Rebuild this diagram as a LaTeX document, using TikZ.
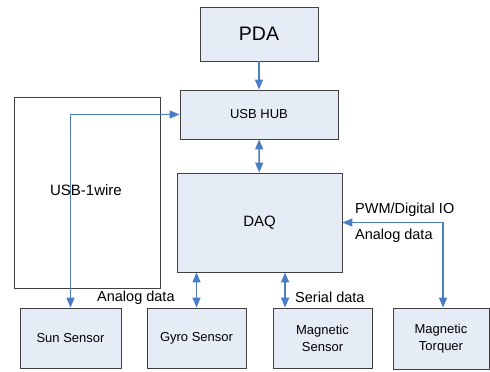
\documentclass[tikz,border=0pt]{standalone}
\usepackage{fontspec}
\setmainfont{Liberation Sans}
\usetikzlibrary{arrows.meta}
\definecolor{boxfill}{RGB}{230,236,246}
\definecolor{boxline}{RGB}{64,64,64}
\definecolor{arrowblue}{RGB}{74,126,196}
\tikzset{
  blk/.style={draw=boxline, line width=0.9pt, fill=boxfill, inner sep=0pt, align=center, font=\fontsize{13}{17}\selectfont},
  tip/.style={Triangle[length=10pt,width=8pt]},
  conn/.style={draw=arrowblue, line width=1.5pt, {Triangle[length=10pt,width=8pt]}-{Triangle[length=10pt,width=8pt]}},
  conn1/.style={draw=arrowblue, line width=1.5pt, -{Triangle[length=10pt,width=8pt]}},
  lbl/.style={anchor=west, inner sep=0pt, font=\fontsize{14.5}{17}\selectfont}
}
\begin{document}
\begin{tikzpicture}[x=1pt,y=-1pt]
\useasboundingbox (0,0) rectangle (490,372);
\node[blk, fill=white, minimum width=146pt, minimum height=191pt] (wire) at (87,192.5) {};
\node[inner sep=0pt, font=\fontsize{15}{18}\selectfont] (wiretext) at (86,190) {USB-1wire};
\node[blk, minimum width=118pt, minimum height=54pt, font=\fontsize{19.5}{22}\selectfont] (pda) at (259,34) {PDA};
\node[blk, minimum width=158pt, minimum height=49pt] (hub) at (259,114.5) {USB HUB};
\node[blk, minimum width=165pt, minimum height=99pt, font=\fontsize{15}{18}\selectfont] (daq) at (259.5,222.5) {DAQ};
\node[blk, minimum width=101pt, minimum height=60pt] (sun) at (70.5,338) {Sun Sensor};
\node[blk, minimum width=99pt, minimum height=60pt] (gyro) at (196.5,338) {Gyro Sensor};
\node[blk, minimum width=99pt, minimum height=60pt] (ms) at (322.5,338) {Magnetic\\Sensor};
\node[blk, minimum width=96pt, minimum height=61pt] (torq) at (441,338.5) {Magnetic\\Torquer};
\coordinate (msA) at ([xshift=12.5pt]ms.north west);
\coordinate (tq) at ([xshift=2pt]torq.north);
\draw[conn1] (pda) -- (hub);
\draw[conn] (hub) -- (daq);
\draw[conn] (sun.north) |- (hub.west);
\draw[conn] (gyro.north |- daq.south) -- (gyro.north);
\draw[conn] (msA |- daq.south) -- (msA);
\draw[conn] (daq.east) -| (tq);
\node[lbl] (l1) at (97,298) {Analog data};
\node[lbl] (l2) at (295,297) {Serial data};
\node[lbl] (l3) at (355,210) {PWM/Digital IO};
\node[lbl] (l4) at (355,236) {Analog data};
\end{tikzpicture}
\end{document}
